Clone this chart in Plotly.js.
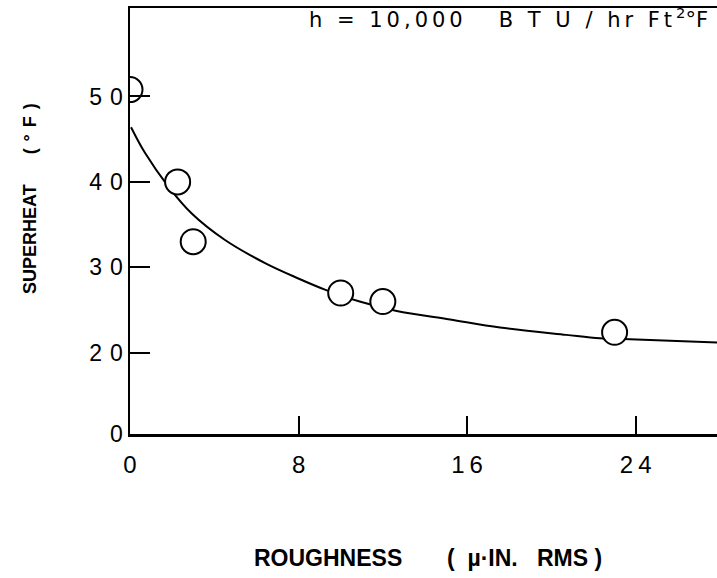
<!DOCTYPE html>
<html>
<head>
<meta charset="utf-8">
<script src="https://cdn.plot.ly/plotly-3.0.1.min.js"></script>
<style>html,body{margin:0;padding:0;background:#fff;}#chart{width:717px;height:578px;}</style>
</head>
<body>
<div id="chart"></div>
<script>
// Measured data points (roughness µin RMS, superheat °F)
const pointRoughness = [0, 2.26, 3.0, 10.0, 12.0, 23.0];
const pointSuperheat = [50.8, 40.0, 33.0, 27.0, 26.0, 22.4];

// Fitted curve
const curveRoughness = [0.05, 0.71, 1.82, 2.93, 4.51, 6.41, 7.99, 9.25, 10.9, 12.66, 15.19, 17.56, 20.7, 22.3, 23.73, 27.9];
const curveSuperheat = [46.4, 43.4, 39.45, 36.3, 33.2, 30.5, 28.7, 27.4, 26.0, 24.9, 23.9, 22.96, 22.1, 21.7, 21.6, 21.2];

// Axis ticks (the value axis is broken: "0" sits at the bottom of the frame)
const xTickVals = [0, 8, 16, 24];
const xTickLabels = ['0', '8', '16', '24'];
const yTickVals = [10.5, 20, 30, 40, 50];
const yTickLabels = ['0', '20', '30', '40', '50'];

const NB = '\u00A0';
const fontFam = '"Liberation Sans", Arial, sans-serif';

// spread the first digit of a two-digit label like the lettering in the original
function spread(label, px) {
  if (label.length < 2) return label;
  return '<span style="letter-spacing:' + px + 'px">' + label.slice(0, -1) + '</span>' + label.slice(-1);
}

const traces = [
  {
    x: curveRoughness, y: curveSuperheat, type: 'scatter', mode: 'lines',
    line: {color: '#000', width: 2, shape: 'spline'}, hoverinfo: 'skip', showlegend: false
  },
  {
    x: pointRoughness, y: pointSuperheat, type: 'scatter', mode: 'markers',
    marker: {symbol: 'circle', size: 25, color: '#fff', line: {color: '#000', width: 2}},
    showlegend: false
  }
];

const layout = {
  width: 717, height: 578,
  margin: {l: 130, r: 0, t: 8, b: 144},
  paper_bgcolor: '#fff', plot_bgcolor: '#fff',
  font: {family: fontFam, color: '#000'},
  showlegend: false,
  xaxis: {
    range: [0, 27.86], showgrid: false, zeroline: false,
    showline: true, linecolor: '#000', linewidth: 2.5, mirror: true,
    ticks: 'inside', ticklen: 18, tickwidth: 2, tickcolor: '#000',
    tickmode: 'array', tickvals: xTickVals, ticktext: xTickLabels.map(t => spread(t, 5)),
    tickfont: {size: 24, family: fontFam}, ticklabelstandoff: 8
  },
  yaxis: {
    range: [10.5, 60.35], showgrid: false, zeroline: false,
    showline: true, linecolor: '#000', linewidth: 2.5,
    ticks: 'inside', ticklen: 20, tickwidth: 2, tickcolor: '#000',
    tickmode: 'array', tickvals: yTickVals, ticktext: yTickLabels.map(t => spread(t, 8)),
    tickfont: {size: 23, family: fontFam}, ticklabelstandoff: 0
  },
  annotations: [
    {
      text: 'SUPERHEAT' + NB.repeat(6) + '<span style="letter-spacing:7px">(°F</span>)', textangle: -90,
      xref: 'paper', yref: 'paper', x: -0.170, y: 0.552,
      xanchor: 'center', yanchor: 'middle', showarrow: false,
      font: {size: 18, family: fontFam, color: '#000', weight: 'bold'}
    },
    {
      text: 'ROUGHNESS' + NB.repeat(7) + '(' + NB + NB + 'µ·IN.' + NB + NB + NB + 'RMS' + NB + ')',
      xref: 'paper', yref: 'paper', x: 0.507, y: -0.291,
      xanchor: 'center', yanchor: 'middle', showarrow: false,
      font: {size: 23, family: fontFam, color: '#000', weight: 'bold'}
    },
    {
      text: '<span style="letter-spacing:4px">h' + NB + '=' + NB + '10,000' + NB + NB + NB + 'B' + NB + 'T' + NB + 'U' + NB + '/' + NB + 'hr' + NB + 'Ft</span><sup>2</sup>°F',
      xref: 'paper', yref: 'paper', x: 0.302, y: 0.976,
      xanchor: 'left', yanchor: 'middle', showarrow: false,
      font: {size: 21, family: '"DejaVu Sans", sans-serif', color: '#000'}
    }
  ]
};

Plotly.newPlot('chart', traces, layout, {displayModeBar: false, staticPlot: true});
</script>
</body>
</html>
